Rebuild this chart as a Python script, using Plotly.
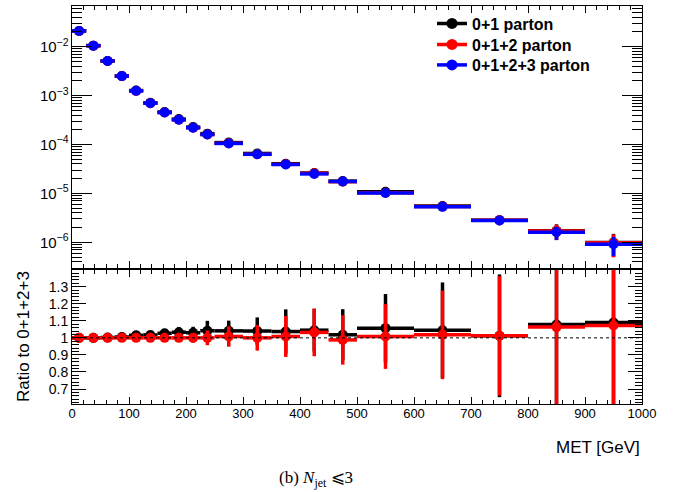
import plotly.graph_objects as go

# ---- data ----
met_centers = [12.5, 37.5, 62.5, 87.5, 112.5, 137.5, 162.5, 187.5, 212.5, 237.5,
               275, 325, 375, 425, 475, 550, 650, 750, 850, 950]
met_halfwidth = [12.5]*10 + [25]*5 + [50]*5

# 0+1+2+3 parton (reference) normalised distribution
blue_vals = [0.021, 0.0105, 0.0051, 0.0025, 0.00125, 0.0007, 0.00045, 0.00032, 0.00022, 0.00016,
             1.05e-4, 6.3e-5, 3.9e-5, 2.5e-5, 1.75e-5, 1.02e-5, 5.3e-6, 2.8e-6, 1.6e-6, 9.1e-7]
blue_relerr = [0.004, 0.005, 0.007, 0.009, 0.012, 0.015, 0.018, 0.02, 0.023, 0.027,
               0.03, 0.04, 0.05, 0.06, 0.07, 0.09, 0.13, 0.19, 0.30, 0.42]
red_relerr = [0.004, 0.005, 0.007, 0.009, 0.012, 0.015, 0.018, 0.02, 0.023, 0.027,
              0.035, 0.045, 0.055, 0.065, 0.075, 0.10, 0.14, 0.20, 0.35, 0.49]
black_relerr = [0.004, 0.005, 0.007, 0.009, 0.012, 0.015, 0.018, 0.02, 0.023, 0.03,
                0.04, 0.05, 0.06, 0.07, 0.08, 0.11, 0.15, 0.21, 0.35, 0.50]

# ratios to 0+1+2+3
ratio_black = [1.0, 1.0, 1.002, 1.005, 1.015, 1.017, 1.027, 1.033, 1.03, 1.042,
               1.041, 1.04, 1.037, 1.045, 1.018, 1.057, 1.045, 1.012, 1.078, 1.09]
ratio_black_err = [0.004, 0.005, 0.007, 0.01, 0.012, 0.015, 0.025, 0.03, 0.035, 0.058,
                   0.06, 0.08, 0.13, 0.125, 0.15, 0.20, 0.28, 0.36, 0.55, 0.65]
ratio_red = [1.0, 1.0, 1.0, 1.0, 1.0, 1.0, 1.0, 1.0, 1.0, 1.0,
             1.008, 1.0, 1.008, 1.032, 0.988, 1.008, 1.018, 1.012, 1.063, 1.072]
ratio_red_err = [0.004, 0.005, 0.006, 0.008, 0.01, 0.012, 0.015, 0.022, 0.028, 0.043,
                 0.06, 0.075, 0.12, 0.14, 0.145, 0.19, 0.26, 0.35, 0.52, 0.60]

names = ["0+1 parton", "0+1+2 parton", "0+1+2+3 parton"]
colors = ["#000000", "#ff0000", "#0000ff"]
ratio_ticks = [0.7, 0.8, 0.9, 1.0, 1.1, 1.2, 1.3]
ratio_ticktext = ["0.7", "0.8", "0.9", "1", "1.1", "1.2", "1.3"]

black_vals = [b * r for b, r in zip(blue_vals, ratio_black)]
red_vals = [b * r for b, r in zip(blue_vals, ratio_red)]

fig = go.Figure()

MS = 10
TH = 3.5

def add_hist(vals, relerr, color, xa, ya):
    fig.add_trace(go.Scatter(
        x=met_centers, y=vals, mode="markers", xaxis=xa, yaxis=ya,
        marker=dict(symbol="circle", size=MS, color=color, line=dict(width=0)),
        error_x=dict(type="data", array=met_halfwidth, color=color, thickness=TH, width=0),
        error_y=dict(type="data", array=[v * e for v, e in zip(vals, relerr)],
                     color=color, thickness=TH, width=0),
        showlegend=False, hoverinfo="skip"))

add_hist(black_vals, black_relerr, colors[0], "x", "y")
add_hist(red_vals, red_relerr, colors[1], "x", "y")
add_hist(blue_vals, blue_relerr, colors[2], "x", "y")

def add_ratio(vals, errs, color):
    fig.add_trace(go.Scatter(
        x=met_centers, y=vals, mode="markers", xaxis="x2", yaxis="y2",
        marker=dict(symbol="circle", size=MS, color=color, line=dict(width=0)),
        error_x=dict(type="data", array=met_halfwidth, color=color, thickness=TH, width=0),
        error_y=dict(type="data", array=errs, color=color, thickness=TH, width=0),
        showlegend=False, hoverinfo="skip"))

add_ratio(ratio_black, ratio_black_err, colors[0])
add_ratio(ratio_red, ratio_red_err, colors[1])

W, H = 683, 492
L, R, T, B = 72, 642, 6, 404
top_bottom_px = 268
rat_top_px = 270
ph = B - T
dom_top = [(B - top_bottom_px) / ph, 1.0]
dom_rat = [0.0, (B - rat_top_px) / ph]

font_fam = "Liberation Sans, Arial, Helvetica, sans-serif"

# legend entries (one legend per entry for exact spacing)
legend_ids = ["legend", "legend2", "legend3"]
legend_ypx = [23.5, 44.5, 65]
for n, c, lid in zip(names, colors, legend_ids):
    fig.add_trace(go.Scatter(x=[None], y=[None], mode="lines+markers", name=n,
                             xaxis="x", yaxis="y", legend=lid,
                             line=dict(color=c, width=3.5),
                             marker=dict(color=c, size=11, line=dict(width=0))))

# dotted line at 1
fig.add_shape(type="line", xref="x2", yref="y2", x0=0, x1=1000, y0=1, y1=1,
              line=dict(color="black", width=1, dash="dot"))

common_x = dict(range=[0, 1000], showgrid=False, zeroline=False,
                showline=True, linecolor="black", linewidth=1, mirror="ticks",
                ticks="inside", ticklen=7, tickwidth=1, tickcolor="black",
                tick0=0, dtick=100,
                minor=dict(ticks="inside", ticklen=4, dtick=20, tickcolor="black", showgrid=False))

legend_common = dict(x=(432 - L) / (R - L), xanchor="left", yanchor="middle",
                     bgcolor="rgba(0,0,0,0)", borderwidth=0,
                     font=dict(family=font_fam, size=16, weight="bold"),
                     itemwidth=30)

fig.update_layout(
    width=W, height=H,
    margin=dict(l=L, r=W - R, t=T, b=H - B, pad=0),
    paper_bgcolor="white", plot_bgcolor="white",
    font=dict(family=font_fam, color="black", size=13),
    xaxis=dict(**common_x, domain=[0, 1], anchor="y", showticklabels=False),
    yaxis=dict(type="log", domain=dom_top, anchor="x", range=[-6.526, -1.168],
               showgrid=False, zeroline=False, showline=True, linecolor="black",
               linewidth=1, mirror="ticks", ticks="inside", ticklen=20, tickwidth=1,
               tickcolor="black", dtick=1, exponentformat="power",
               tickfont=dict(size=12),
               minor=dict(ticks="inside", ticklen=10, dtick="D1", tickcolor="black",
                          showgrid=False)),
    xaxis2=dict(**common_x, domain=[0, 1], anchor="y2", showticklabels=True,
                tickfont=dict(size=13), ticklabelstandoff=-3),
    yaxis2=dict(domain=dom_rat, anchor="x2", range=[0.612, 1.398],
                showgrid=False, zeroline=False, showline=True, linecolor="black",
                linewidth=1, mirror="ticks", ticks="inside", ticklen=14, tickwidth=1,
                tickcolor="black", tickvals=ratio_ticks, ticktext=ratio_ticktext,
                tickfont=dict(size=14),
                minor=dict(ticks="inside", ticklen=7, dtick=0.02, tick0=0.6,
                           tickcolor="black", showgrid=False)),
    legend=dict(**legend_common, y=(B - legend_ypx[0]) / ph),
    legend2=dict(**legend_common, y=(B - legend_ypx[1]) / ph),
    legend3=dict(**legend_common, y=(B - legend_ypx[2]) / ph),
    showlegend=True,
)

fig.add_annotation(text="MET [GeV]", xref="paper", yref="paper",
                   x=1.0, xanchor="right", y=(B - 447) / ph, yanchor="middle",
                   showarrow=False, font=dict(size=17, family=font_fam))
fig.add_annotation(text="Ratio to 0+1+2+3", xref="paper", yref="paper",
                   x=(23 - L) / (R - L), xanchor="center", y=(B - 337) / ph, yanchor="middle",
                   textangle=-90, showarrow=False, font=dict(size=17, family=font_fam))
fig.add_annotation(text="(b) <i>N</i><sub>jet</sub> ⩽3", xref="paper", yref="paper",
                   x=(316 - L) / (R - L), xanchor="center", y=(B - 479) / ph, yanchor="middle",
                   showarrow=False, font=dict(size=17, family="Liberation Serif, DejaVu Serif, serif"))

fig.write_html("out.html", config={"displayModeBar": False},
               post_script="document.body.style.margin='0px';document.body.style.padding='0px';")
